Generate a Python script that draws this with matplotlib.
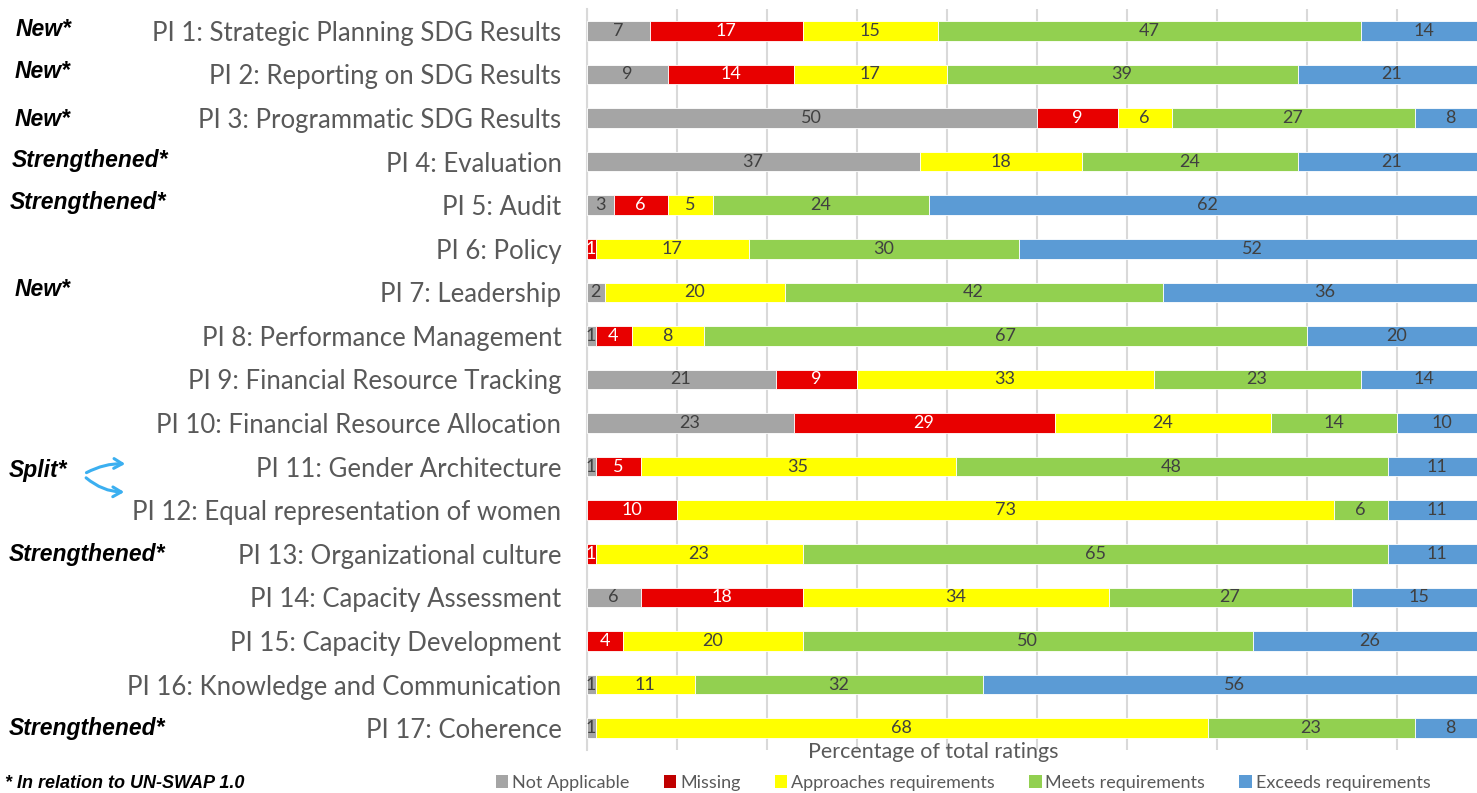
import matplotlib.pyplot as plt
from matplotlib.patches import Patch

# indicators, top to bottom
labels = ['PI 1: Strategic Planning SDG Results', 'PI 2: Reporting on SDG Results',
          'PI 3: Programmatic SDG Results', 'PI 4: Evaluation', 'PI 5: Audit',
          'PI 6: Policy', 'PI 7: Leadership', 'PI 8: Performance Management',
          'PI 9: Financial Resource Tracking', 'PI 10: Financial Resource Allocation',
          'PI 11: Gender Architecture', 'PI 12: Equal representation of women',
          'PI 13: Organizational culture', 'PI 14: Capacity Assessment',
          'PI 15: Capacity Development', 'PI 16: Knowledge and Communication',
          'PI 17: Coherence']

not_applicable = [7, 9, 50, 37, 3, 0, 2, 1, 21, 23, 1, 0, 0, 6, 0, 1, 1]
missing = [17, 14, 9, 0, 6, 1, 0, 4, 9, 29, 5, 10, 1, 18, 4, 0, 0]
approaches = [15, 17, 6, 18, 5, 17, 20, 8, 33, 24, 35, 73, 23, 34, 20, 11, 68]
meets = [47, 39, 27, 24, 24, 30, 42, 67, 23, 14, 48, 6, 65, 27, 50, 32, 23]
exceeds = [14, 21, 8, 21, 62, 52, 36, 20, 14, 10, 11, 11, 11, 15, 26, 56, 8]

series_names = ['Not Applicable', 'Missing', 'Approaches requirements',
                'Meets requirements', 'Exceeds requirements']
colors = ['#A5A5A5', '#E80000', '#FFFF00', '#92D050', '#5B9BD5']
legend_colors = ['#A5A5A5', '#C00000', '#FFFF00', '#92D050', '#5B9BD5']
text_colors = ['#404040', 'white', '#404040', '#404040', '#404040']

# notes on the left of the chart
note_texts = ['New*', 'New*', 'New*', 'Strengthened*', 'Strengthened*',
              'New*', 'Split*', 'Strengthened*', 'Strengthened*']
# vertical placement of the notes (pixels from top) and left edge
note_y = [30, 72, 119, 161, 202, 289, 471, 554, 729]
note_x = [16, 15, 15, 12, 10, 15, 9, 9, 9]

W, H = 1477, 793
fig = plt.figure(figsize=(W / 100, H / 100), dpi=100)
ax = fig.add_axes([586.5 / W, 43 / H, 900 / W, 741 / H])

ypos = list(range(len(labels)))
left = [0] * len(labels)
all_series = [not_applicable, missing, approaches, meets, exceeds]
for vals, col, tcol in zip(all_series, colors, text_colors):
    bars = ax.barh(ypos, vals, left=left, height=0.45, color=col,
                   edgecolor='white', linewidth=0.6, zorder=3)
    for b, v in zip(bars, vals):
        if v > 0:
            ax.text(b.get_x() + b.get_width() / 2, b.get_y() + b.get_height() / 2,
                    str(v), ha='center', va='center', color=tcol,
                    fontsize=13, family='Lato', zorder=4)
    left = [l + v for l, v in zip(left, vals)]

ax.set_xlim(0, 100)
ax.set_ylim(len(labels) - 0.5, -0.5)
ax.set_xticks(range(0, 101, 10))
ax.set_xticklabels([])
ax.tick_params(axis='x', length=0)
ax.tick_params(axis='y', length=0, pad=18)
ax.set_yticks(ypos)
ax.set_yticklabels(labels, fontsize=18.5, family='Lato', color='#595959')
ax.grid(axis='x', color='#D9D9D9', linewidth=1.5, zorder=0)
for s in ['top', 'right', 'bottom']:
    ax.spines[s].set_visible(False)
ax.spines['left'].set_color('#D9D9D9')
ax.spines['left'].set_linewidth(1.5)

fig.text(933 / W, 1 - 752 / H, 'Percentage of total ratings', ha='center',
         va='center', fontsize=15.5, family='Lato', color='#595959')

handles = [Patch(facecolor=c, edgecolor='none') for c in legend_colors]
fig.legend(handles, series_names, loc='center', bbox_to_anchor=(963 / W, 1 - 783 / H),
           ncol=5, frameon=False, prop={'family': 'Lato', 'size': 13},
           handlelength=0.7, handleheight=0.7, handletextpad=0.2, columnspacing=1.9,
           labelcolor='#595959')

for t, yy, xx in zip(note_texts, note_y, note_x):
    fig.text(xx / W, 1 - yy / H, t, ha='left', va='center', fontsize=16.5,
             family='Liberation Sans', weight='bold', style='italic', color='black')

fig.text(5 / W, 1 / H, '* In relation to UN-SWAP 1.0', ha='left', va='bottom',
         fontsize=13, family='Liberation Sans', weight='bold', style='italic')

# split arrows
arrow_kw = dict(arrowstyle='->,head_length=0.6,head_width=0.35', color='#3BAFF0', lw=2.2)
ax.annotate('', xy=(128 / W, 1 - 464 / H), xycoords='figure fraction',
            xytext=(84 / W, 1 - 474 / H), textcoords='figure fraction',
            arrowprops=dict(connectionstyle='arc3,rad=-0.15', **arrow_kw))
ax.annotate('', xy=(127 / W, 1 - 492 / H), xycoords='figure fraction',
            xytext=(84 / W, 1 - 476 / H), textcoords='figure fraction',
            arrowprops=dict(connectionstyle='arc3,rad=0.2', **arrow_kw))

fig.savefig('out.png', dpi=100)
